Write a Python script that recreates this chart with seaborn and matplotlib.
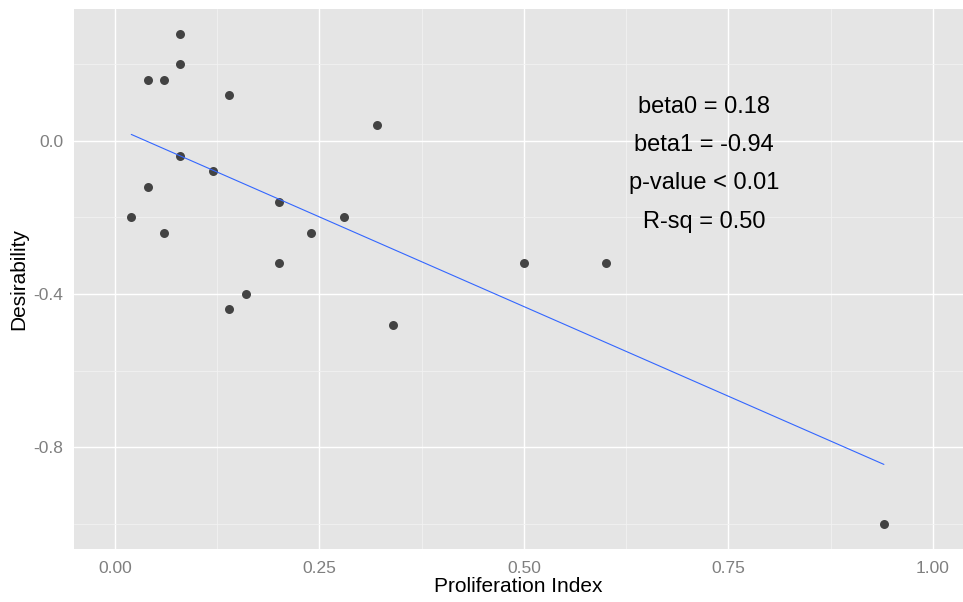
import matplotlib
matplotlib.use("Agg")
import matplotlib.pyplot as plt
import matplotlib.transforms as mtransforms
import seaborn as sns
import pandas as pd

# Data
prolif = [0.08, 0.08, 0.04, 0.06, 0.14, 0.32, 0.08, 0.12, 0.04, 0.20, 0.02,
          0.28, 0.06, 0.24, 0.20, 0.50, 0.60, 0.16, 0.14, 0.34, 0.94]
desir = [0.28, 0.20, 0.16, 0.16, 0.12, 0.04, -0.04, -0.08, -0.12, -0.16, -0.20,
         -0.20, -0.24, -0.24, -0.32, -0.32, -0.32, -0.40, -0.44, -0.48, -1.00]
x_ticks = [0.00, 0.25, 0.50, 0.75, 1.00]
x_tick_labels = ["0.00", "0.25", "0.50", "0.75", "1.00"]
y_ticks = [-0.8, -0.4, 0.0]
y_tick_labels = ["-0.8", "-0.4", "0.0"]
x_minor = [0.125, 0.375, 0.625, 0.875]
y_minor = [-1.0, -0.6, -0.2, 0.2]
annotations = ["beta0 = 0.18", "beta1 = -0.94", "p-value < 0.01", "R-sq = 0.50"]
annot_x = 0.72
annot_y = [0.1, 0.0, -0.1, -0.2]

df = pd.DataFrame({"Proliferation Index": prolif, "Desirability": desir})

sns.set_style("white")
plt.rcParams["font.family"] = ["Liberation Sans", "DejaVu Sans"]

fig = plt.figure(figsize=(9.63, 6.02), dpi=100)
ax = fig.add_axes([74 / 963, (602 - 548.5) / 602, (963 - 74) / 963, (548.5 - 9) / 602])
ax.set_facecolor("#E5E5E5")

ax.set_xticks(x_ticks)
ax.set_xticklabels(x_tick_labels)
ax.set_yticks(y_ticks)
ax.set_yticklabels(y_tick_labels)
ax.set_xticks(x_minor, minor=True)
ax.set_yticks(y_minor, minor=True)
ax.grid(which="major", color="white", linewidth=1.0)
ax.grid(which="minor", color="#F2F2F2", linewidth=0.6)
ax.set_axisbelow(True)

sns.regplot(data=df, x="Proliferation Index", y="Desirability", ax=ax, ci=None,
            scatter_kws=dict(color="#434343", s=42, linewidths=0, alpha=1, zorder=3),
            line_kws=dict(color="#3366FF", linewidth=0.8, zorder=4))

offset = mtransforms.offset_copy(ax.transData, fig=fig, x=0, y=-3, units="points")
for t, yy in zip(annotations, annot_y):
    ax.text(annot_x, yy, t, ha="center", va="center", fontsize=17, color="black",
            transform=offset)

ax.set_xlim(-0.05, (963 - 115) / 818)
ax.set_ylim(-1.064, 0.344)

for s in ax.spines.values():
    s.set_visible(False)

ax.tick_params(which="major", length=4.5, width=0.8, color="#7F7F7F",
               labelcolor="#7F7F7F", labelsize=12.5, pad=3)
ax.tick_params(axis="x", which="major", pad=4.5)
ax.tick_params(which="minor", length=0)
ax.set_xlabel("Proliferation Index", fontsize=15, color="black", labelpad=1)
ax.set_ylabel("Desirability", fontsize=15, color="black", labelpad=4)

fig.savefig("out.png", dpi=100)
